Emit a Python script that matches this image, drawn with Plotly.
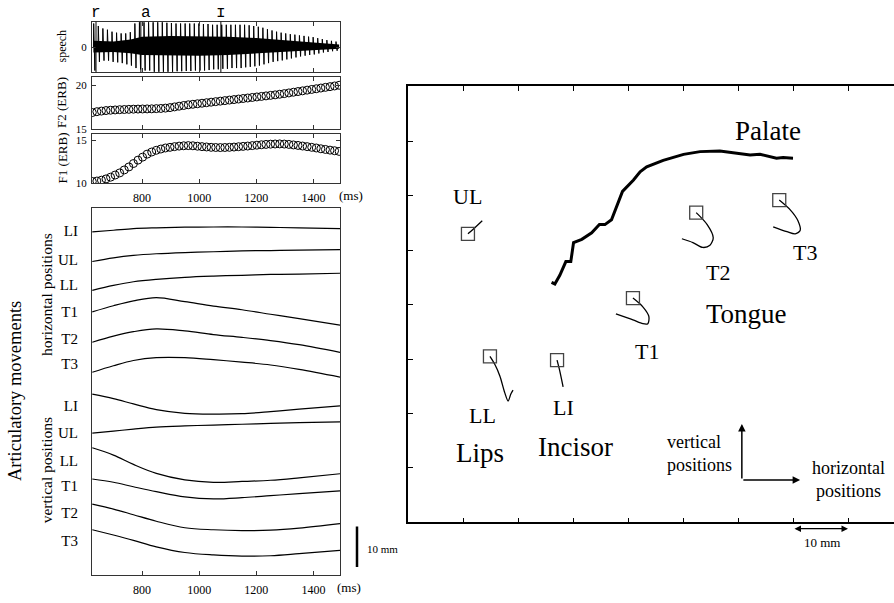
import plotly.graph_objects as go

W, H = 894, 603
SERIF = "Liberation Serif"
MONO = "Liberation Mono, DejaVu Sans Mono, monospace"


def fx(p):
    return p / W


def fy(p):
    return 1 - p / H


# ---------------- data ----------------
# speech waveform: pitch-period marks (ms) and per-period peak amplitudes
pitch_t = [630, 646, 662, 678, 694, 710, 726, 742, 758, 774, 790, 806, 822, 838, 854, 870, 886, 902,
           918, 934, 950, 966, 982, 998, 1014, 1030, 1046, 1062, 1078, 1094, 1110, 1126, 1142, 1158,
           1174, 1190, 1206, 1222, 1238, 1254, 1270, 1286, 1302, 1318, 1334, 1350, 1366, 1382, 1398,
           1414, 1430, 1446, 1462, 1478]
speech_pos = [0.95, 0.85, 0.75, 0.7, 0.62, 0.58, 0.55, 0.55, 0.6, 0.95,
              1.0, 1.0, 1.0, 1.0, 1.0, 1.0, 0.98, 0.97, 0.95, 0.95,
              0.95, 0.95, 0.95, 0.95, 0.93, 0.93, 0.9, 0.9, 0.9, 0.9,
              0.9, 0.9, 0.9, 0.9, 0.88, 0.85, 0.82, 0.78, 0.72, 0.67,
              0.62, 0.58, 0.55, 0.52, 0.5, 0.47, 0.45, 0.42, 0.4, 0.36,
              0.32, 0.28, 0.25, 0.22]
speech_neg = [-0.95, -0.6, -0.55, -0.55, -0.6, -0.62, -0.65, -0.7, -0.75, -0.85,
              -0.9, -0.95, -0.95, -1.0, -1.0, -1.0, -1.0, -1.0, -0.98, -0.98,
              -0.97, -0.97, -0.95, -0.95, -0.95, -0.93, -0.9, -0.9, -0.88, -0.88,
              -0.85, -0.85, -0.85, -0.82, -0.8, -0.78, -0.75, -0.7, -0.65, -0.6,
              -0.57, -0.54, -0.5, -0.46, -0.42, -0.38, -0.35, -0.32, -0.3, -0.26,
              -0.22, -0.2, -0.17, -0.15]
# dense core of the waveform (envelope)
core_t = [630, 700, 760, 800, 900, 1000, 1100, 1200, 1300, 1400, 1490]
core_hi = [0.25, 0.22, 0.3, 0.42, 0.45, 0.45, 0.42, 0.36, 0.28, 0.18, 0.1]
core_lo = [-0.22, -0.2, -0.25, -0.32, -0.35, -0.35, -0.32, -0.27, -0.2, -0.13, -0.07]

phonemes = ["r", "a", "ɪ"]
phoneme_label_t = [640, 815, 1078]
phoneme_bound_t = [639, 796, 1076]

# formants (ERB)
formant_t = [626, 642, 658, 674, 690, 706, 722, 738, 754, 770, 786, 802, 818, 834, 850, 866, 882, 898,
             914, 930, 946, 962, 978, 994, 1010, 1026, 1042, 1058, 1074, 1090, 1106, 1122, 1138, 1154,
             1170, 1186, 1202, 1218, 1234, 1250, 1266, 1282, 1298, 1314, 1330, 1346, 1362, 1378, 1394,
             1410, 1426, 1442, 1458, 1474, 1490]
F2 = [16.85, 16.95, 17.02, 17.08, 17.12, 17.15, 17.18, 17.2, 17.22, 17.24,
      17.25, 17.26, 17.27, 17.28, 17.3, 17.32, 17.36, 17.42, 17.5, 17.58,
      17.66, 17.74, 17.8, 17.86, 17.92, 17.98, 18.04, 18.1, 18.16, 18.22,
      18.28, 18.34, 18.4, 18.46, 18.52, 18.58, 18.64, 18.7, 18.76, 18.82,
      18.88, 18.95, 19.02, 19.1, 19.18, 19.26, 19.34, 19.42, 19.5, 19.58,
      19.66, 19.74, 19.82, 19.9, 19.98]
F1 = [10.2, 10.25, 10.35, 10.5, 10.7, 10.95, 11.2, 11.55, 11.9, 12.3,
      12.7, 13.05, 13.4, 13.65, 13.85, 14.0, 14.12, 14.2, 14.28, 14.34,
      14.38, 14.4, 14.38, 14.33, 14.28, 14.24, 14.2, 14.18, 14.17, 14.18,
      14.2, 14.23, 14.27, 14.31, 14.35, 14.4, 14.45, 14.5, 14.54, 14.57,
      14.59, 14.6, 14.58, 14.54, 14.48, 14.42, 14.35, 14.28, 14.2, 14.12,
      14.03, 13.95, 13.87, 13.8, 13.72]

# articulatory movements (mm, stacked display offsets)
art_t = [626, 700, 770, 850, 950, 1050, 1150, 1250, 1350, 1493]
LI_h = [84.6, 85.0, 85.4, 85.6, 85.75, 85.8, 85.8, 85.7, 85.6, 85.4]
UL_h = [77.3, 78.2, 78.8, 79.2, 79.5, 79.7, 79.9, 80.0, 80.1, 80.2]
LL_h = [70.2, 71.4, 72.3, 72.9, 73.4, 73.7, 73.9, 74.1, 74.2, 74.4]
T1_h = [64.9, 66.4, 67.6, 68.4, 67.4, 66.3, 65.4, 64.3, 63.2, 61.6]
T2_h = [57.4, 58.9, 60.0, 60.7, 60.2, 59.3, 58.6, 57.8, 56.8, 54.9]
T3_h = [50.0, 51.6, 52.9, 53.6, 53.6, 53.1, 52.5, 51.8, 50.7, 48.8]
LI_v = [44.6, 43.5, 42.2, 40.8, 39.9, 39.7, 39.8, 40.3, 40.9, 41.7]
UL_v = [35.0, 35.5, 36.0, 36.5, 36.8, 37.0, 37.2, 37.4, 37.6, 37.8]
LL_v = [31.4, 29.6, 27.3, 25.1, 23.5, 22.9, 23.1, 23.4, 24.0, 25.0]
T1_v = [23.7, 22.9, 21.8, 20.6, 19.3, 18.8, 19.1, 19.6, 20.1, 20.8]
T2_v = [17.5, 16.3, 14.9, 13.3, 11.7, 11.2, 11.0, 11.1, 11.6, 12.7]
T3_v = [11.2, 9.9, 8.6, 7.0, 5.6, 5.0, 4.7, 4.8, 5.3, 6.1]
art_labels = ["LI", "UL", "LL", "T1", "T2", "T3", "LI", "UL", "LL", "T1", "T2", "T3"]
art_label_pos = [84.9, 77.8, 71.5, 64.9, 58.3, 52.0, 41.7, 35.1, 28.3, 22.0, 15.4, 8.5]

# midsagittal plane (mm)
palate_x = [26.1, 26.7, 27.6, 28.4, 28.7, 29.6, 30.1, 31.6, 33.4, 34.8, 35.8, 37.0, 38.5, 39.0,
            41.0, 42.2, 43.4, 46.4, 50.1, 53.1, 56.7, 59.8, 62.2, 64.0, 67.0, 68.2, 70.0]
palate_y = [44.1, 43.8, 45.4, 47.2, 47.9, 47.9, 51.4, 52.0, 53.2, 54.7, 54.7, 55.6, 59.6, 60.8,
            62.9, 64.4, 65.3, 66.5, 67.6, 68.1, 68.2, 67.8, 67.5, 67.6, 66.9, 67.0, 66.9]
UL_x = [10.9, 12.0, 13.5]
UL_y = [53.0, 54.0, 55.4]
LL_x = [14.9, 15.8, 16.7, 17.6, 18.2, 18.7, 19.1]
LL_y = [30.5, 29.0, 26.9, 23.8, 22.3, 23.6, 24.3]
LI_x = [27.1, 27.6, 28.2]
LI_y = [29.8, 27.8, 24.9]
T1_x = [40.9, 42.7, 43.8, 43.6, 42.7, 40.9, 37.8]
T1_y = [41.2, 39.6, 37.8, 36.5, 36.5, 37.2, 38.3]
T2_x = [52.4, 54.4, 55.5, 54.9, 53.6, 51.8, 49.8]
T2_y = [56.9, 54.7, 52.3, 50.9, 50.5, 51.4, 52.1]
T3_x = [67.5, 69.5, 70.9, 71.3, 70.4, 68.9, 66.4]
T3_y = [59.2, 57.4, 55.4, 53.6, 53.0, 53.4, 54.3]

# ---------------- figure ----------------
fig = go.Figure()

# speech core + spikes
fig.add_trace(go.Scatter(x=core_t + core_t[::-1], y=core_hi + core_lo[::-1], fill="toself",
                         fillcolor="black", mode="lines", line=dict(width=0), xaxis="x", yaxis="y",
                         hoverinfo="skip"))
sx, sy = [], []
for t, p, n in zip(pitch_t, speech_pos, speech_neg):
    sx += [t, t + 1, t + 5, t + 6]
    sy += [0, p, n, 0]
fig.add_trace(go.Scatter(x=sx, y=sy, mode="lines", line=dict(color="black", width=1),
                         xaxis="x", yaxis="y"))

circ = dict(symbol="circle-open", size=8, color="black", line=dict(width=1, color="black"))
fig.add_trace(go.Scatter(x=formant_t, y=F2, mode="markers", marker=circ, xaxis="x2", yaxis="y2"))
fig.add_trace(go.Scatter(x=formant_t, y=F1, mode="markers", marker=circ, xaxis="x3", yaxis="y3"))

for series in [LI_h, UL_h, LL_h, T1_h, T2_h, T3_h, LI_v, UL_v, LL_v, T1_v, T2_v, T3_v]:
    fig.add_trace(go.Scatter(x=art_t, y=series, mode="lines",
                             line=dict(color="black", width=1.2, shape="spline", smoothing=1),
                             xaxis="x4", yaxis="y4"))

# right panel
fig.add_trace(go.Scatter(x=palate_x, y=palate_y, mode="lines", line=dict(color="black", width=3),
                         xaxis="x5", yaxis="y5"))
for tx, ty in [(UL_x, UL_y), (LL_x, LL_y), (LI_x, LI_y), (T1_x, T1_y), (T2_x, T2_y), (T3_x, T3_y)]:
    fig.add_trace(go.Scatter(x=tx, y=ty, mode="lines",
                             line=dict(color="black", width=1.3, shape="spline", smoothing=0.8),
                             xaxis="x5", yaxis="y5"))
    fig.add_trace(go.Scatter(x=[tx[0]], y=[ty[0]], mode="markers",
                             marker=dict(symbol="square-open", size=13, color="#444",
                                         line=dict(width=1.3, color="#444")),
                             xaxis="x5", yaxis="y5"))

tfont = dict(family=SERIF, size=12, color="black")
yfont = dict(family=SERIF, size=11, color="black")
xdom = [fx(92), fx(340)]
common_x = dict(domain=xdom, range=[625, 1493], tickvals=[800, 1000, 1200, 1400], ticks="inside",
                ticklen=4, tickcolor="#333", showline=True, linecolor="#333", linewidth=1,
                mirror="ticks", showgrid=False, zeroline=False, tickfont=tfont,
                ticklabelstandoff=3)
common_y = dict(ticks="inside", ticklen=4, tickcolor="#333", showline=True, linecolor="#333",
                linewidth=1, mirror="ticks", showgrid=False, zeroline=False, tickfont=yfont,
                ticklabelstandoff=2)

fig.update_layout(
    width=W, height=H, margin=dict(l=0, r=0, t=0, b=0),
    paper_bgcolor="white", plot_bgcolor="white", showlegend=False,
    xaxis=dict(common_x, anchor="y", showticklabels=False),
    yaxis=dict(common_y, anchor="x", domain=[fy(73), fy(22)], range=[-1.02, 1.02], tickvals=[0]),
    xaxis2=dict(common_x, anchor="y2", showticklabels=False),
    yaxis2=dict(common_y, anchor="x2", domain=[fy(130), fy(78)], range=[15, 20.9], tickvals=[15, 20]),
    xaxis3=dict(common_x, anchor="y3", showticklabels=True),
    yaxis3=dict(common_y, anchor="x3", domain=[fy(185), fy(135)], range=[10, 15.8], tickvals=[10, 15]),
    xaxis4=dict(common_x, anchor="y4", showticklabels=True, mirror=True),
    yaxis4=dict(common_y, anchor="x4", domain=[fy(581), fy(210)], range=[0, 90.5],
                tickvals=art_label_pos, ticktext=art_labels, ticks="",
                tickfont=dict(family=SERIF, size=15, color="black"), ticklabelstandoff=10),
    xaxis5=dict(anchor="y5", domain=[fx(408), 1], range=[0, (W - 408) / 5.5],
                tickvals=[10, 20, 30, 40, 50, 60, 70, 80], ticks="inside", ticklen=5,
                tickcolor="black", showticklabels=False, showline=True, linecolor="black",
                linewidth=1.5, mirror="ticks", showgrid=False, zeroline=False),
    yaxis5=dict(anchor="x5", domain=[fy(527.7), fy(87)], range=[0, 440.7 / 5.5],
                tickvals=[10, 20, 30, 40, 50, 60, 70], ticks="inside", ticklen=5,
                tickcolor="black", showticklabels=False, showline=True, linecolor="black",
                linewidth=1.5, mirror=False, showgrid=False, zeroline=False),
)

shapes = []
for t in phoneme_bound_t:
    shapes.append(dict(type="line", xref="x", yref="y domain", x0=t, x1=t, y0=0, y1=1,
                       line=dict(color="black", width=1)))
shapes.append(dict(type="line", xref="paper", yref="y4", x0=fx(357), x1=fx(357), y0=2, y1=12,
                   line=dict(color="black", width=2.5)))
fig.update_layout(shapes=shapes)

ann = []


def txt(text, x, y, size, xref="paper", yref="paper", angle=0, family=SERIF, xanchor="center",
        align="center"):
    ann.append(dict(text=text, x=x, y=y, xref=xref, yref=yref, showarrow=False, textangle=angle,
                    font=dict(family=family, size=size, color="black"), xanchor=xanchor,
                    yanchor="middle", align=align))


for ph, t in zip(phonemes, phoneme_label_t):
    txt(ph, t, fy(13), 16, xref="x", family=MONO)
txt("speech", fx(62), fy(47), 12, angle=-90)
txt("F2 (ERB)", fx(62), fy(104), 13, angle=-90)
txt("F1 (ERB)", fx(62), fy(160), 13, angle=-90)
txt("(ms)", fx(351), fy(197), 13)
txt("(ms)", fx(349), fy(593), 13)
txt("Articulatory movements", fx(15), fy(395), 18.5, angle=-90)
txt("horizontal positions", fx(46), fy(298), 15.5, angle=-90)
txt("vertical positions", fx(46), fy(475), 15.5, angle=-90)
txt("10 mm", fx(365), 6.5, 11, yref="y4", xanchor="left")

for label, x, y, s in [("Palate", 65.5, 71.9, 27), ("UL", 10.9, 59.9, 22), ("T2", 56.4, 45.9, 22),
                       ("T3", 72.2, 49.5, 22), ("Tongue", 61.6, 38.3, 27), ("T1", 43.5, 31.4, 22),
                       ("LL", 13.5, 19.6, 22), ("LI", 28.2, 21.2, 22), ("Lips", 13.1, 12.7, 27),
                       ("Incisor", 30.5, 13.8, 27)]:
    txt(label, x, y, s, xref="x5", yref="y5")
txt("vertical<br>positions", 46.7, 12.7, 18, xref="x5", yref="y5", xanchor="left", align="left")
txt("horizontal<br>positions", 80.0, 7.8, 18, xref="x5", yref="y5")
txt("10 mm", 75.3, fy(548), 13, xref="x5")

arrow = dict(showarrow=True, arrowhead=2, arrowsize=1, arrowwidth=1.5, arrowcolor="black", text="")
ann.append(dict(arrow, x=60.7, y=18.1, ax=60.7, ay=7.8, xref="x5", yref="y5", axref="x5", ayref="y5"))
ann.append(dict(arrow, x=71.3, y=7.8, ax=60.7, ay=7.8, xref="x5", yref="y5", axref="x5", ayref="y5"))
ann.append(dict(arrow, x=80, y=fy(534), ax=70, ay=0, xref="x5", yref="paper", axref="x5",
                arrowside="end+start", arrowwidth=1.3))
fig.update_layout(annotations=ann)

fig.write_html("out.html", config={"displayModeBar": False},
               post_script="document.body.style.margin='0';document.body.style.overflow='hidden';")
